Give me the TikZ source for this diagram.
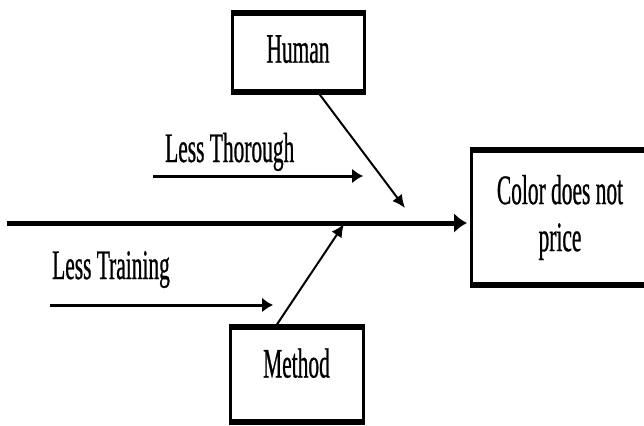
\documentclass[tikz,border=0pt]{standalone}
\usepackage{fontspec}
\setmainfont{Liberation Serif}
\newfontfamily\narrowserif[FakeStretch=0.51, FakeBold=0.6]{Liberation Serif}
\usepackage{tikz}
\usetikzlibrary{arrows.meta,calc}

\tikzset{
	fishfont/.style={font=\narrowserif\fontsize{42}{47}\selectfont},
	fishbox/.style={fishfont, draw, line width=3pt, inner sep=0pt, outer sep=0pt, align=center,
		append after command={
			(\tikzlastnode.north west) edge[line width=6pt, shorten <=-1.5pt, shorten >=-1.5pt] (\tikzlastnode.north east)
			(\tikzlastnode.south west) edge[line width=6pt, shorten <=-1.5pt, shorten >=-1.5pt] (\tikzlastnode.south east)}},
	causetext/.style={fishfont, inner sep=0pt, anchor=base west},
	spine/.style={line width=5pt, -{Latex[length=13pt,width=20pt]}},
	bone/.style={line width=3pt, -{Latex[length=11pt,width=15pt]}},
	rib/.style={line width=2pt, -{Latex[length=13pt,width=12pt]}},
}

\begin{document}
\begin{tikzpicture}[x=1pt, y=-1pt]
	\useasboundingbox (0,0) rectangle (644,425);
	\clip (0,0) rectangle (644,425);
	\node[fishbox, minimum width=132pt, minimum height=79pt, text depth=7pt] (human) at (298,52.5) {Human};
	\node[fishbox, minimum width=133pt, minimum height=95pt, text height=30pt, text depth=24pt] (method) at (296.5,374.5) {Method};
	\node[fishbox, minimum width=178pt, minimum height=135pt] (effect) at (560,217.5) {Color does not\\price};
	\node[causetext] (thorough) at (165,162) {Less Thorough};
	\node[causetext] (training) at (52,279) {Less Training};
	\coordinate (spine-s) at (7,223);
	\coordinate (spine-e) at (467,223);
	\coordinate (thorough-s) at (153,176);
	\coordinate (thorough-e) at (363,176);
	\coordinate (training-s) at (50,305);
	\coordinate (training-e) at (273,305);
	\coordinate (human-tip) at (405,208);
	\coordinate (method-tip) at (344,224);
	\draw[spine] (spine-s) -- (spine-e);
	\draw[bone] (thorough-s) -- (thorough-e);
	\draw[bone] (training-s) -- (training-e);
	\draw[rib] ($(human.south west)!0.65!(human.south east)$) -- (human-tip);
	\draw[rib] ($(method.north west)!0.34!(method.north east)$) -- (method-tip);
\end{tikzpicture}
\end{document}
